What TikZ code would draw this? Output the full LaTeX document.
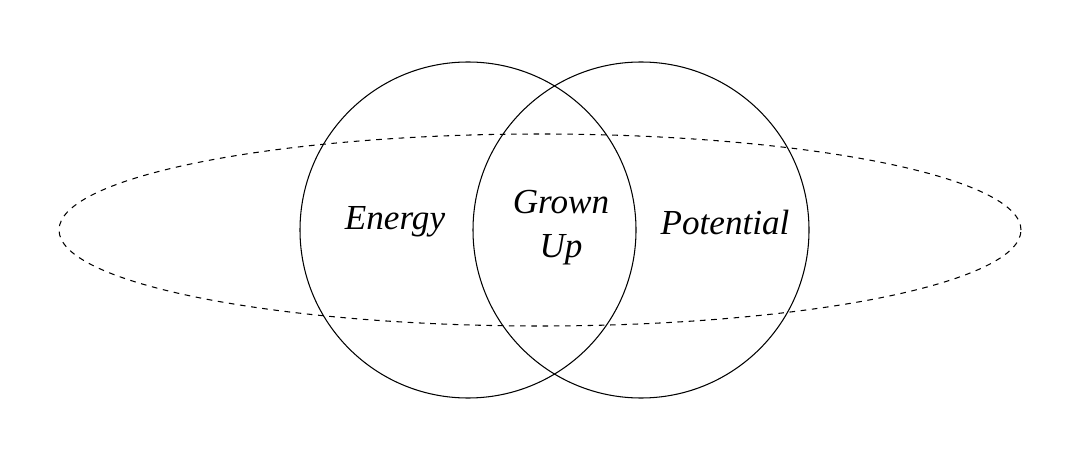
\documentclass[tikz,border=0pt]{standalone}
\usepackage{fontspec}
\setmainfont{Liberation Serif}
\usetikzlibrary{shapes.geometric,positioning}

\begin{document}
\begin{tikzpicture}[font=\itshape\fontsize{10}{12.5}\selectfont]
    \tikzstyle{set}=[circle,draw=black,line width=0.3pt,minimum size=3.36cm,inner sep=0pt]
    \tikzstyle{world}=[ellipse,draw=black,line width=0.3pt,dash pattern=on 1.6pt off 1.6pt,minimum width=9.62cm,minimum height=1.92cm,inner sep=0pt]

    \useasboundingbox (0,0) rectangle (10.8,4.56);

    \node [world] (outer)   at (5.40,2.26) {};
    \node [set]   (energy)  at (4.68,2.26) {};
    \node [set]   (potential) at (6.41,2.26) {};

    \node (energylabel)  at (3.95,2.34) {Energy};
    \node (potentiallabel) at (7.25,2.34) {Potential};
    \node [align=center] (grownlabel) at (5.61,2.28) {Grown\\Up};
  \end{tikzpicture}
\end{document}
